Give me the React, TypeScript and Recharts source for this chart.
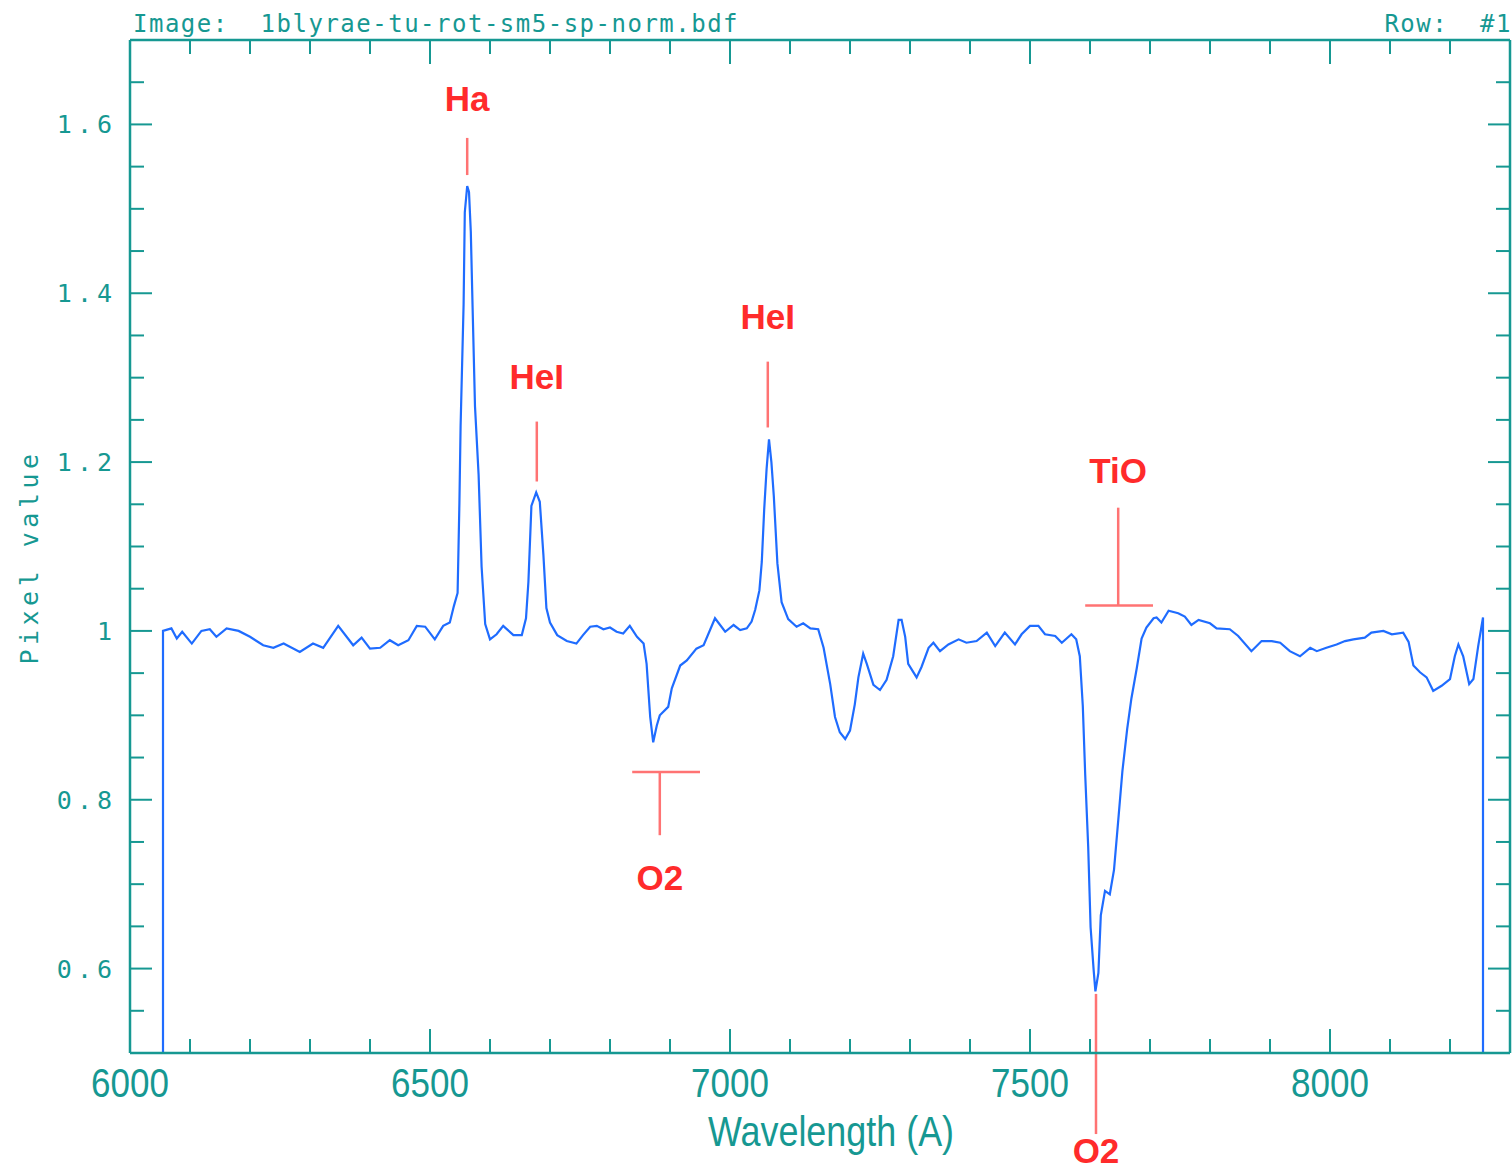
import React from 'react';
import { ComposedChart, Line, XAxis, YAxis, ReferenceLine, ReferenceDot } from 'recharts';

// spectrum (wavelength in A, normalised flux)
const wavelength = [
  6055, 6055, 6069, 6078, 6087, 6103, 6119, 6133, 6144, 6161, 6181, 6200, 6222, 6239, 6256, 6283,
  6305, 6322, 6347, 6372, 6386, 6400, 6417, 6433, 6447, 6464, 6478, 6492, 6508, 6522, 6533, 6540,
  6546, 6549, 6551, 6556, 6558, 6562, 6565, 6568, 6571, 6575, 6581, 6586, 6592, 6600, 6611, 6622,
  6639, 6653, 6660, 6664, 6669, 6677, 6683, 6689, 6694, 6700, 6712, 6728, 6744, 6755, 6767, 6778,
  6789, 6800, 6811, 6822, 6833, 6845, 6856, 6861, 6867, 6872, 6878, 6883, 6897, 6903, 6917, 6928,
  6944, 6956, 6975, 6992, 7006, 7017, 7028, 7036, 7042, 7049, 7053, 7057, 7061, 7065, 7069, 7073,
  7079, 7086, 7097, 7111, 7122, 7134, 7147, 7156, 7167, 7175, 7183, 7192, 7200, 7208, 7214, 7222,
  7228, 7239, 7250, 7261, 7272, 7281, 7286, 7292, 7297, 7311, 7319, 7331, 7339, 7350, 7364, 7381,
  7394, 7411, 7428, 7442, 7458, 7475, 7486, 7500, 7514, 7525, 7542, 7553, 7569, 7577, 7583, 7588,
  7592, 7597, 7601, 7606, 7609, 7614, 7618, 7625, 7633, 7640, 7647, 7654, 7662, 7669, 7678, 7686,
  7694, 7706, 7711, 7719, 7731, 7747, 7758, 7769, 7781, 7800, 7811, 7833, 7847, 7869, 7886, 7903,
  7917, 7933, 7950, 7967, 7978, 7994, 8011, 8025, 8039, 8058, 8069, 8089, 8103, 8122, 8131, 8139,
  8150, 8161, 8172, 8186, 8200, 8208, 8214, 8222, 8232, 8239, 8247, 8255, 8255,
];
const flux = [
  0.5, 1.0, 1.003, 0.991, 0.999, 0.985, 1.0, 1.002, 0.993, 1.003, 1.0, 0.993, 0.983, 0.98, 0.985, 0.975,
  0.985, 0.98, 1.006, 0.983, 0.992, 0.979, 0.98, 0.989, 0.983, 0.989, 1.006, 1.005, 0.99, 1.006, 1.01, 1.03,
  1.045, 1.151, 1.243, 1.387, 1.496, 1.527, 1.52, 1.473, 1.383, 1.266, 1.185, 1.076, 1.008, 0.99, 0.996, 1.006,
  0.995, 0.995, 1.015, 1.058, 1.148, 1.164, 1.153, 1.09, 1.027, 1.01, 0.995, 0.988, 0.985, 0.995, 1.005, 1.006,
  1.002, 1.004, 0.999, 0.997, 1.006, 0.993, 0.985, 0.961, 0.898, 0.868, 0.888, 0.9, 0.91, 0.932, 0.959, 0.965,
  0.979, 0.983, 1.015, 0.999, 1.007, 1.001, 1.003, 1.011, 1.025, 1.048, 1.082, 1.144, 1.192, 1.227, 1.2, 1.16,
  1.08, 1.034, 1.014, 1.005, 1.009, 1.003, 1.002, 0.98, 0.937, 0.898, 0.88, 0.872, 0.882, 0.913, 0.945, 0.973,
  0.961, 0.936, 0.93, 0.942, 0.97, 1.013, 1.013, 0.993, 0.961, 0.945, 0.957, 0.98, 0.986, 0.976, 0.984, 0.99,
  0.986, 0.988, 0.998, 0.982, 0.998, 0.984, 0.996, 1.006, 1.006, 0.996, 0.994, 0.986, 0.996, 0.99, 0.97, 0.911,
  0.83, 0.744, 0.649, 0.599, 0.573, 0.595, 0.663, 0.692, 0.688, 0.717, 0.775, 0.834, 0.884, 0.92, 0.956, 0.991,
  1.004, 1.015, 1.016, 1.01, 1.024, 1.021, 1.017, 1.007, 1.013, 1.009, 1.003, 1.002, 0.994, 0.976, 0.988, 0.988,
  0.986, 0.976, 0.97, 0.98, 0.976, 0.98, 0.984, 0.988, 0.99, 0.992, 0.998, 1.0, 0.996, 0.998, 0.987, 0.959,
  0.951, 0.945, 0.929, 0.935, 0.943, 0.97, 0.984, 0.97, 0.937, 0.943, 0.982, 1.016, 0.5,
];

// axis ticks
const xTicks = [6000, 6100, 6200, 6300, 6400, 6500, 6600, 6700, 6800, 6900, 7000, 7100, 7200, 7300, 7400,
  7500, 7600, 7700, 7800, 7900, 8000, 8100, 8200];
const xMajor = [6000, 6500, 7000, 7500, 8000];
const yTicks = [0.55, 0.6, 0.65, 0.7, 0.75, 0.8, 0.85, 0.9, 0.95, 1, 1.05, 1.1, 1.15, 1.2, 1.25, 1.3,
  1.35, 1.4, 1.45, 1.5, 1.55, 1.6, 1.65];
const yMajor = [0.6, 0.8, 1, 1.2, 1.4, 1.6];
const yMajorLabels = ['0.6', '0.8', '1', '1.2', '1.4', '1.6'];

// line identifications
const lineNames = ['Ha', 'HeI', 'HeI', 'TiO', 'O2', 'O2'];
const lineX = [6562, 6678, 7063, 7647, 6883, 7610];
const lineLabelY = [1.631, 1.301, 1.373, 1.19, 0.708, 0.384];
const lineTickTop = [1.584, 1.248, 1.319, 1.146, 0.833, 0.57];
const lineTickBottom = [1.54, 1.177, 1.241, 1.03, 0.758, 0.404];
// band bars: y, from, to
const bandY = [1.03, 0.833];
const bandFrom = [7592, 6837];
const bandTo = [7705, 6950];

const data = wavelength.map((w, i) => ({ w, f: flux[i] }));

const AXIS = '#169892';
const RED = '#ff2b2b';
const RED_LINE = '#ff7373';
const MONO = 'DejaVu Sans Mono, monospace';
const SANS = 'Liberation Sans, Arial, sans-serif';

const yIndex = (v: number) => yMajor.findIndex((m) => Math.abs(m - v) < 1e-6);

function BottomTick({ x, y, payload }: any) {
  const major = xMajor.includes(payload.value);
  return (
    <g>
      <line x1={x} x2={x} y1={y} y2={y - (major ? 24 : 14)} stroke={AXIS} strokeWidth={2} />
      {major && (
        <text transform={`translate(${x},${y + 44}) scale(0.875,1)`} textAnchor="middle" fill={AXIS}
          fontFamily={SANS} fontSize={40}>
          {payload.value}
        </text>
      )}
    </g>
  );
}

function TopTick({ x, y, payload }: any) {
  const major = xMajor.includes(payload.value);
  return <line x1={x} x2={x} y1={y} y2={y + (major ? 24 : 14)} stroke={AXIS} strokeWidth={2} />;
}

function LeftTick({ x, y, payload }: any) {
  const i = yIndex(payload.value);
  return (
    <g>
      <line x1={x} x2={x + (i >= 0 ? 22 : 14)} y1={y} y2={y} stroke={AXIS} strokeWidth={2} />
      {i >= 0 && (
        <text x={x - 13} y={y + 9} textAnchor="end" fill={AXIS} fontFamily={MONO} fontSize={25} letterSpacing={5}>
          {yMajorLabels[i]}
        </text>
      )}
    </g>
  );
}

function RightTick({ x, y, payload }: any) {
  const i = yIndex(payload.value);
  return <line x1={x} x2={x - (i >= 0 ? 22 : 14)} y1={y} y2={y} stroke={AXIS} strokeWidth={2} />;
}

export default function App() {
  return (
    <div style={{ position: 'absolute', left: 0, top: 0, width: 1512, height: 1170, background: '#fff' }}>
      <ComposedChart width={1512} height={1170} data={data} margin={{ top: 0, right: 0, bottom: 0, left: 0 }}>
        <XAxis dataKey="w" type="number" domain={[6000, 8300]} allowDataOverflow ticks={xTicks}
          height={117} tickSize={0} tickMargin={0} tickLine={false} tick={<BottomTick />}
          axisLine={{ stroke: AXIS, strokeWidth: 2.5 }} interval={0} />
        <XAxis xAxisId="top" orientation="top" dataKey="w" type="number" domain={[6000, 8300]} allowDataOverflow
          ticks={xTicks} height={40} tickSize={0} tickMargin={0} tickLine={false} tick={<TopTick />}
          axisLine={{ stroke: AXIS, strokeWidth: 2.5 }} interval={0} />
        <YAxis type="number" domain={[0.5, 1.7]} allowDataOverflow ticks={yTicks} width={130}
          tickSize={0} tickMargin={0} tickLine={false} tick={<LeftTick />}
          axisLine={{ stroke: AXIS, strokeWidth: 2.5 }} interval={0} />
        <YAxis yAxisId="right" orientation="right" type="number" domain={[0.5, 1.7]} allowDataOverflow
          ticks={yTicks} width={2} tickSize={0} tickMargin={0} tickLine={false} tick={<RightTick />}
          axisLine={{ stroke: AXIS, strokeWidth: 2.5 }} interval={0} />
        <Line type="linear" dataKey="f" stroke="#1f6cff" strokeWidth={2.2} dot={false} isAnimationActive={false} />
        {lineX.map((lx, i) => (
          <ReferenceLine key={'t' + i} segment={[{ x: lx, y: lineTickTop[i] }, { x: lx, y: lineTickBottom[i] }]}
            stroke={RED_LINE} strokeWidth={2.5} ifOverflow="visible" />
        ))}
        {bandY.map((by, i) => (
          <ReferenceLine key={'b' + i} segment={[{ x: bandFrom[i], y: by }, { x: bandTo[i], y: by }]}
            stroke={RED_LINE} strokeWidth={2.5} ifOverflow="visible" />
        ))}
        {lineX.map((lx, i) => (
          <ReferenceDot key={'n' + i} x={lx} y={lineLabelY[i]} r={0} ifOverflow="visible"
            shape={(p: any) => (
              <text x={p.cx} y={p.cy} textAnchor="middle" dominantBaseline="central" fill={RED}
                fontFamily={SANS} fontWeight="bold" fontSize={35}>
                {lineNames[i]}
              </text>
            )} />
        ))}
      </ComposedChart>
      <svg width={1512} height={1170} style={{ position: 'absolute', left: 0, top: 0, pointerEvents: 'none' }}>
        <text x={133} y={32} fill={AXIS} fontFamily={MONO} fontSize={24} letterSpacing={1.5}
          style={{ whiteSpace: 'pre' }}>
          {'Image:  1blyrae-tu-rot-sm5-sp-norm.bdf'}
        </text>
        <text x={1512} y={32} textAnchor="end" fill={AXIS} fontFamily={MONO} fontSize={24} letterSpacing={1.5}
          style={{ whiteSpace: 'pre' }}>
          {'Row:  #1'}
        </text>
        <text transform="translate(831,1146) scale(0.855,1)" textAnchor="middle" fill={AXIS} fontFamily={SANS}
          fontSize={42}>
          Wavelength (A)
        </text>
        <text transform="translate(38,557) rotate(-90)" textAnchor="middle" fill={AXIS} fontFamily={MONO}
          fontSize={25} letterSpacing={4.5}>
          Pixel value
        </text>
      </svg>
    </div>
  );
}
